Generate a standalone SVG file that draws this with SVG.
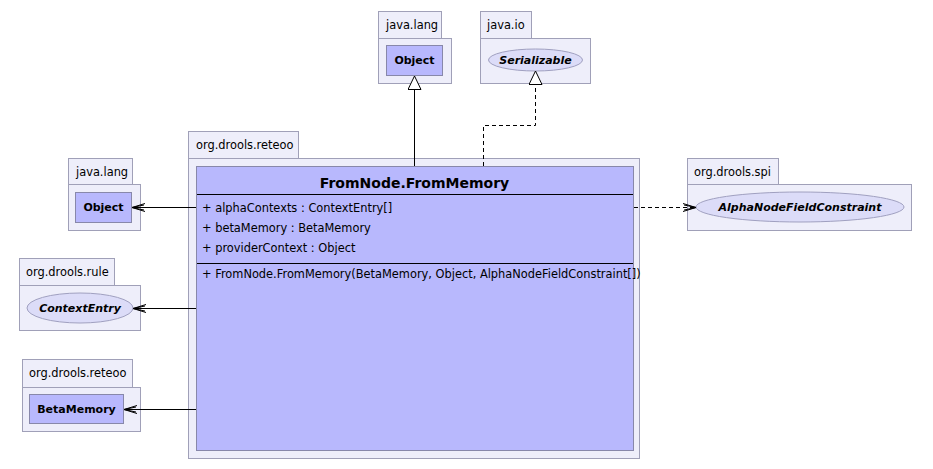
<svg xmlns="http://www.w3.org/2000/svg" width="933" height="469" viewBox="0 0 933 469">
<defs>
<style>
.pkg{fill:#eeeefa;stroke:#a0a0b8;stroke-width:1}
.cls{fill:#b8b8fd;stroke:#8888aa;stroke-width:1}
.ifc{fill:#dcdcf8;stroke:#a0a0c0;stroke-width:1}
.pt{font-family:"DejaVu Sans",sans-serif;font-size:11.4px;fill:#000}
.cn{font-family:"DejaVu Sans",sans-serif;font-size:11px;font-weight:bold;fill:#000;text-anchor:middle}
.in{font-family:"DejaVu Sans",sans-serif;font-size:11px;font-weight:bold;font-style:italic;fill:#000;text-anchor:middle}
.mt{font-family:"DejaVu Sans",sans-serif;font-size:11.4px;fill:#000}
.tt{font-family:"DejaVu Sans",sans-serif;font-size:14px;font-weight:bold;fill:#000;text-anchor:middle}
.ln{fill:none;stroke:#000;stroke-width:1}
.dl{fill:none;stroke:#000;stroke-width:1;stroke-dasharray:4,3}
</style>
<marker id="tri" markerWidth="16" markerHeight="16" refX="14" refY="7" orient="auto" markerUnits="userSpaceOnUse">
<path d="M0.5,0.5 L14,7 L0.5,13.5 Z" fill="#fff" stroke="#000" stroke-width="1"/>
</marker>
<marker id="open" markerWidth="16" markerHeight="12" refX="13" refY="5" orient="auto" markerUnits="userSpaceOnUse">
<path d="M0,1 L13,5 L0,9 M1,2.5 L13,5 L1,7.5" fill="none" stroke="#000" stroke-width="1"/>
</marker>
</defs>
<rect width="933" height="469" fill="#fff"/>

<g id="pkg-java-lang-top">
<rect class="pkg" x="378.5" y="11.5" width="63" height="27"/>
<rect class="pkg" x="378.5" y="38.5" width="73" height="45"/>
<text class="pt" x="386" y="29">java.lang</text>
<g id="Object-top">
<rect class="cls" x="386.5" y="45.5" width="56" height="30"/>
<text class="cn" x="414.5" y="64">Object</text>
</g>
</g>

<g id="pkg-java-io">
<rect class="pkg" x="480.5" y="11.5" width="51" height="27"/>
<rect class="pkg" x="480.5" y="38.5" width="110" height="45"/>
<text class="pt" x="487" y="29">java.io</text>
<g id="Serializable">
<ellipse class="ifc" cx="535.5" cy="60" rx="47" ry="11"/>
<text class="in" x="535.5" y="64">Serializable</text>
</g>
</g>

<g id="pkg-org-drools-reteoo-main">
<rect class="pkg" x="188.5" y="131.5" width="110" height="27"/>
<rect class="pkg" x="188.5" y="158.5" width="451" height="300"/>
<text class="pt" x="196" y="149">org.drools.reteoo</text>
<g id="FromNode.FromMemory">
<rect class="cls" x="196.5" y="166.5" width="437" height="284"/>
<text class="tt" x="414.5" y="188">FromNode.FromMemory</text>
<line class="ln" x1="197" y1="194.5" x2="633" y2="194.5"/>
<text class="mt" x="202" y="212">+ alphaContexts : ContextEntry[]</text>
<text class="mt" x="202" y="232">+ betaMemory : BetaMemory</text>
<text class="mt" x="202" y="252">+ providerContext : Object</text>
<line class="ln" x1="197" y1="263.5" x2="633" y2="263.5"/>
<text class="mt" x="202" y="278">+ FromNode.FromMemory(BetaMemory, Object, AlphaNodeFieldConstraint[])</text>
</g>
</g>

<g id="pkg-java-lang-left">
<rect class="pkg" x="68.5" y="158.5" width="64" height="26"/>
<rect class="pkg" x="68.5" y="184.5" width="72" height="46"/>
<text class="pt" x="76" y="176">java.lang</text>
<g id="Object-left">
<rect class="cls" x="75.5" y="192.5" width="56" height="30"/>
<text class="cn" x="103.5" y="211">Object</text>
</g>
</g>

<g id="pkg-org-drools-rule">
<rect class="pkg" x="19.5" y="258.5" width="95" height="27"/>
<rect class="pkg" x="19.5" y="285.5" width="121" height="45"/>
<text class="pt" x="26" y="276">org.drools.rule</text>
<g id="ContextEntry">
<ellipse class="ifc" cx="80" cy="308" rx="53" ry="15"/>
<text class="in" x="80" y="312">ContextEntry</text>
</g>
</g>

<g id="pkg-org-drools-reteoo-left">
<rect class="pkg" x="22.5" y="359.5" width="110" height="28"/>
<rect class="pkg" x="22.5" y="387.5" width="118" height="44"/>
<text class="pt" x="29" y="377">org.drools.reteoo</text>
<g id="BetaMemory">
<rect class="cls" x="29.5" y="394.5" width="94" height="29"/>
<text class="cn" x="76.5" y="413">BetaMemory</text>
</g>
</g>

<g id="pkg-org-drools-spi">
<rect class="pkg" x="687.5" y="158.5" width="91" height="26"/>
<rect class="pkg" x="687.5" y="184.5" width="224" height="46"/>
<text class="pt" x="694" y="176">org.drools.spi</text>
<g id="AlphaNodeFieldConstraint">
<ellipse class="ifc" cx="800" cy="207" rx="104" ry="15"/>
<text class="in" x="800" y="211">AlphaNodeFieldConstraint</text>
</g>
</g>

<g id="connectors">
<path class="ln" d="M414.5,166 L414.5,76" marker-end="url(#tri)"/>
<path class="dl" d="M483.5,166 L483.5,125.5 L535.5,125.5 L535.5,71" marker-end="url(#tri)"/>
<path class="ln" d="M196,207.5 L132,207.5" marker-end="url(#open)"/>
<path class="ln" d="M196,308.5 L133,308.5" marker-end="url(#open)"/>
<path class="ln" d="M196,409.5 L124,409.5" marker-end="url(#open)"/>
<path class="dl" d="M634,207.5 L696,207.5" marker-end="url(#open)"/>
</g>
</svg>
